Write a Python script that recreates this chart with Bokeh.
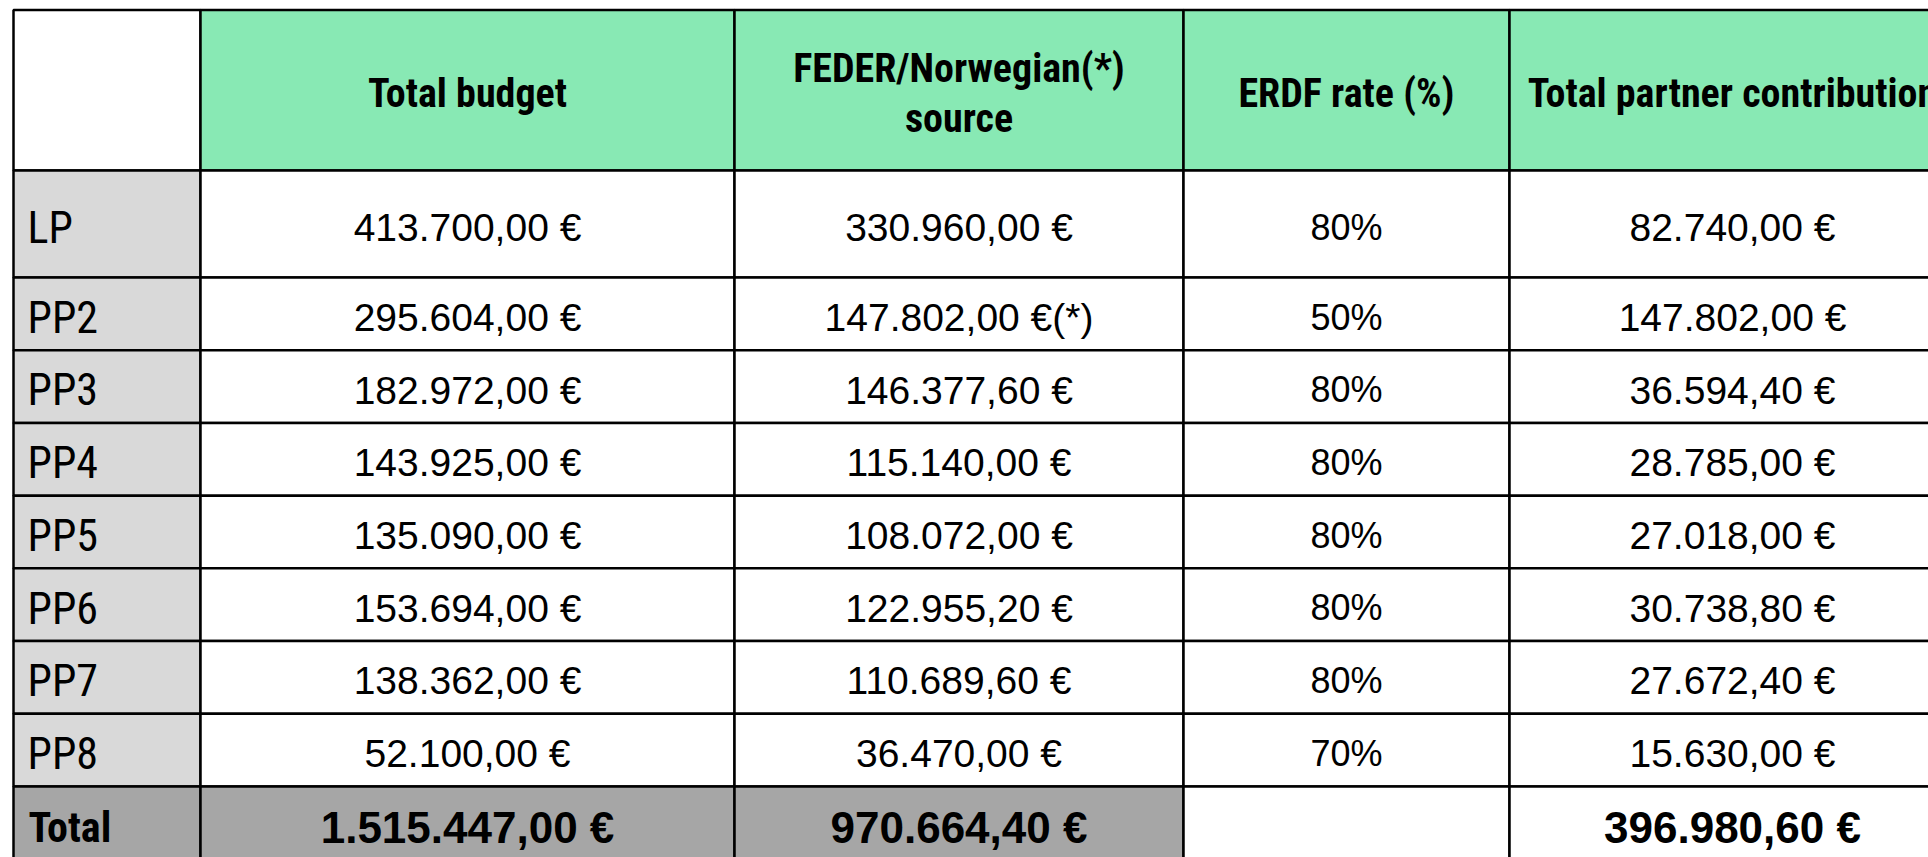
from bokeh.plotting import figure
from bokeh.models import Range1d, ColumnDataSource
from bokeh.core.properties import value
from bokeh.embed import file_html
from bokeh.resources import INLINE

# ---------------- data ----------------
headers = ["", "Total budget", "FEDER/Norwegian(*)\nsource", "ERDF rate (%)", "Total partner contribution"]
partners = ["LP", "PP2", "PP3", "PP4", "PP5", "PP6", "PP7", "PP8"]
total_budget = [413700.00, 295604.00, 182972.00, 143925.00, 135090.00, 153694.00, 138362.00, 52100.00]
feder_source = [330960.00, 147802.00, 146377.60, 115140.00, 108072.00, 122955.20, 110689.60, 36470.00]
feder_note = ["", "(*)", "", "", "", "", "", ""]
erdf_rate = [80, 50, 80, 80, 80, 80, 80, 70]
partner_contribution = [82740.00, 147802.00, 36594.40, 28785.00, 27018.00, 30738.80, 27672.40, 15630.00]
total_label = "Total"
total_values = [1515447.00, 970664.40, None, 396980.60]


def eur(v):
    s = f"{v:,.2f}".replace(",", "#").replace(".", ",").replace("#", ".")
    return s + " €"


# ---------------- layout ----------------
W, H = 1928, 857
col_edges = [13, 200, 734, 1183, 1509, 1955]
header_h = 160.5
lp_h = 107
pp_h = (786 - 277) / 7
total_h = 83
row_edges = [9.5, 9.5 + header_h, 9.5 + header_h + lp_h]
for _ in range(len(partners) - 1):
    row_edges.append(row_edges[-1] + pp_h)
row_edges.append(row_edges[-1] + total_h)

GREEN = "#88E9B4"
LGRAY = "#D9D9D9"
DGRAY = "#A6A6A6"
NARROW = "Roboto Condensed"
SHIFT = 0.27  # em: renderer baseline correction

p = figure(width=W, height=H, output_backend="svg", toolbar_location=None,
           x_range=Range1d(0, W), y_range=Range1d(H, 0),
           min_border=0, outline_line_color=None, background_fill_color="white",
           border_fill_color="white")
p.xaxis.visible = False
p.yaxis.visible = False
p.xgrid.visible = False
p.ygrid.visible = False

# cells
L, R, T, B, C = [], [], [], [], []
nrows = len(row_edges) - 1
for r in range(nrows):
    for c in range(len(col_edges) - 1):
        L.append(col_edges[c]); R.append(col_edges[c + 1])
        T.append(row_edges[r]); B.append(row_edges[r + 1])
        if r == 0:
            C.append("white" if c == 0 else GREEN)
        elif r == nrows - 1:
            C.append(DGRAY if c <= 2 else "white")
        else:
            C.append(LGRAY if c == 0 else "white")
p.quad(left=L, right=R, top=T, bottom=B, fill_color=C, line_color="black", line_width=2.5)

centers_x = [(col_edges[i] + col_edges[i + 1]) / 2 for i in range(len(col_edges) - 1)]
centers_y = [(row_edges[i] + row_edges[i + 1]) / 2 for i in range(nrows)]


def draw(xs, ys, texts, font, size, bold=False, align="center"):
    src = ColumnDataSource(dict(x=xs, y=[y - SHIFT * size for y in ys], t=texts))
    p.text(x="x", y="y", text="t", source=src, text_font=value(font),
           text_font_size=value(f"{size}px"), text_font_style="bold" if bold else "normal",
           text_align=align, text_baseline="alphabetic", text_color="black")


# headers
hx, hy, ht = [], [], []
for c in range(1, 5):
    lines = headers[c].split("\n")
    if len(lines) == 1:
        hx.append(centers_x[c]); hy.append(centers_y[0] + 14.5); ht.append(lines[0])
    else:
        hx += [centers_x[c], centers_x[c]]
        hy += [centers_y[0] - 10.5, centers_y[0] + 39.5]
        ht += lines
draw(hx, hy, ht, NARROW, 40, bold=True)

# row labels
data_cy = centers_y[1:1 + len(partners)]
draw([27] * len(partners), [cy + 0.358 * 44 for cy in data_cy], partners, NARROW, 44, align="left")

# values
fs = 39
draw([centers_x[1]] * len(partners), [cy + 0.358 * fs for cy in data_cy], [eur(v) for v in total_budget], "Liberation Sans", fs)
draw([centers_x[2]] * len(partners), [cy + 0.358 * fs for cy in data_cy],
     [eur(v) + n for v, n in zip(feder_source, feder_note)], "Liberation Sans", fs)
draw([centers_x[3]] * len(partners), [cy + 0.358 * 36 for cy in data_cy], [f"{v}%" for v in erdf_rate], "Liberation Sans", 36)
draw([centers_x[4]] * len(partners), [cy + 0.358 * fs for cy in data_cy], [eur(v) for v in partner_contribution], "Liberation Sans", fs)

# total row
tb = centers_y[-1] + 0.358 * 44 - 4.5
draw([28], [tb], [total_label], NARROW, 42, bold=True, align="left")
tx, ty, tt = [], [], []
for i, v in enumerate(total_values):
    if v is not None:
        tx.append(centers_x[i + 1]); ty.append(tb); tt.append(eur(v))
draw(tx, ty, tt, "Liberation Sans", 44, bold=True)

open("out.html", "w").write(file_html(p, INLINE))
